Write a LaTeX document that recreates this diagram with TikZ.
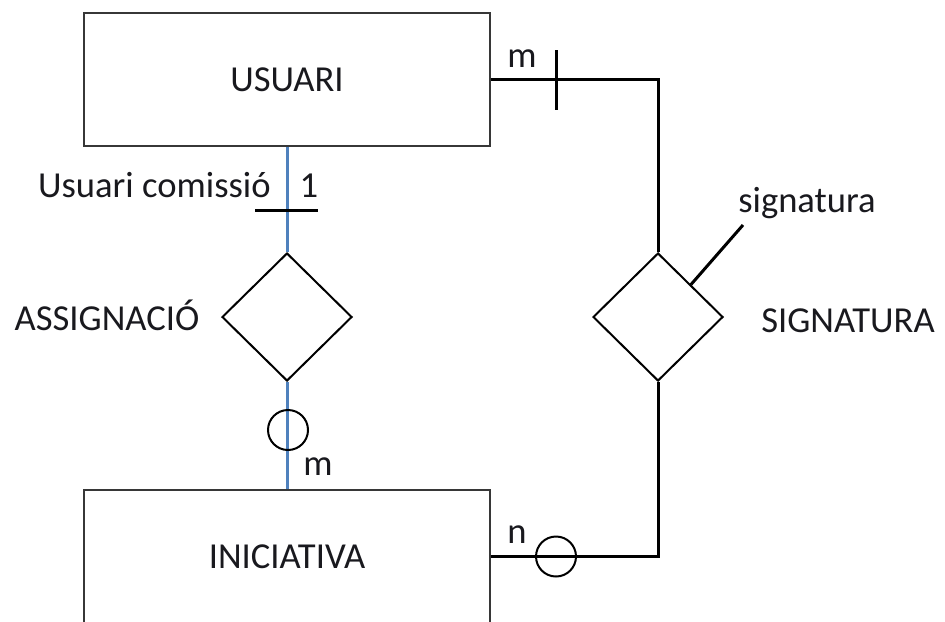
\documentclass[tikz,border=0pt]{standalone}
\usepackage{fontspec}
\setmainfont{Carlito}
\usepackage{tikz}
\usetikzlibrary{shapes.geometric}
\definecolor{BlauLinia}{RGB}{79,129,189}
\definecolor{GrisVora}{RGB}{55,55,55}
\definecolor{TextFosc}{RGB}{25,25,30}

\begin{document}
\begin{tikzpicture}[x=0.5pt,y=-0.5pt,
  every node/.style={font=\fontsize{18.3}{22}\selectfont,text=TextFosc},
  entitat/.style={draw=GrisVora,line width=1.4pt,minimum width=203pt,minimum height=66.5pt,inner sep=0pt},
  relacio/.style={draw,diamond,line width=1pt,minimum width=65pt,minimum height=64pt,inner sep=0pt},
  marca/.style={draw,circle,line width=1pt,minimum size=20pt,inner sep=0pt},
  etiqueta/.style={inner sep=0pt},
  enllac/.style={line width=1.5pt}]
  \useasboundingbox (0,0) rectangle (945,621);
  \clip (0,0) rectangle (945,621);

  \node[entitat] (usuari) at (287,79.5) {USUARI};
  \node[entitat] (iniciativa) at (287,556.5) {INICIATIVA};
  \node[relacio] (assignacio) at (287,317) {};
  \node[relacio] (signatura) at (658,317) {};

  \node[etiqueta,anchor=base] (nomAssig) at (107,330) {ASSIGNACIÓ};
  \node[etiqueta,anchor=base] (nomSig) at (848,332) {SIGNATURA};
  \node[etiqueta,anchor=base] (atribSig) at (807,212) {signatura};
  \node[etiqueta,anchor=base east] (rolUsuari) at (271,197) {Usuari comissió};
  \node[etiqueta,anchor=base] (card1) at (309,197) {1};
  \node[etiqueta,anchor=base] (cardM1) at (522,67) {m};
  \node[etiqueta,anchor=base] (cardM2) at (318,475) {m};
  \node[etiqueta,anchor=base] (cardN) at (517,543) {n};

  % assignacio
  \draw[enllac,BlauLinia] (usuari.south) -- (assignacio.north);
  \draw[enllac,BlauLinia] (assignacio.south) -- (iniciativa.north);
  \draw[enllac] (255,210) -- (318,210);
  \node[marca] (opcAssig) at (288,430) {};

  % signatura
  \draw[enllac] (usuari.east) -| (signatura.north);
  \draw[enllac] (signatura.south) |- (iniciativa.east);
  \draw[enllac] (556,50) -- (556,110);
  \node[marca] (opcSig) at (556,556.5) {};
  \coordinate (fiAtrib) at (743,225);
  \draw[enllac] (signatura.north east) -- (fiAtrib);
\end{tikzpicture}
\end{document}
